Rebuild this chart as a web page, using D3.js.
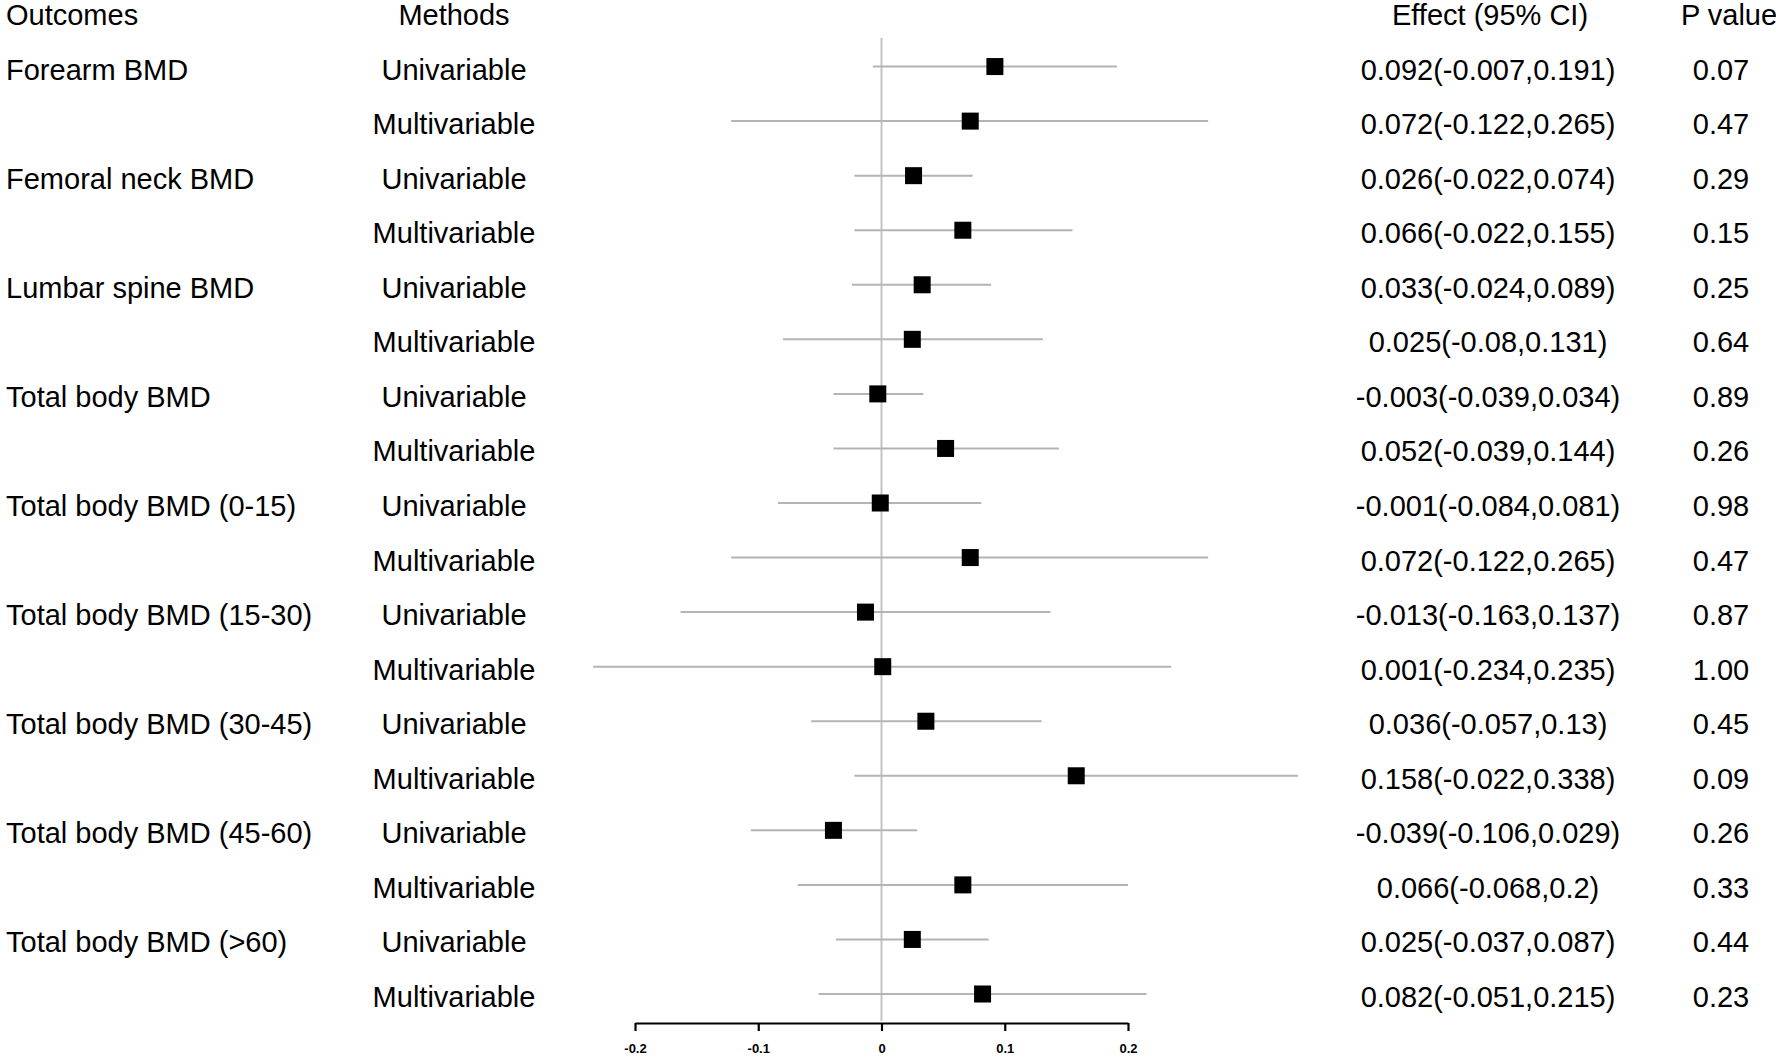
<!DOCTYPE html>
<html>
<head>
<meta charset="utf-8">
<script src="https://cdn.jsdelivr.net/npm/d3@7"></script>
<style>
  body { margin: 0; background: #fff; }
  text { font-family: "Liberation Sans", Arial, sans-serif; fill: #000; }
</style>
</head>
<body>
<div id="viz"></div>
<script>
const outcomes = ["Forearm BMD", "", "Femoral neck BMD", "", "Lumbar spine BMD", "",
                  "Total body BMD", "", "Total body BMD (0-15)", "", "Total body BMD (15-30)", "",
                  "Total body BMD (30-45)", "", "Total body BMD (45-60)", "", "Total body BMD (>60)", ""];
const methods  = ["Univariable", "Multivariable", "Univariable", "Multivariable", "Univariable", "Multivariable",
                  "Univariable", "Multivariable", "Univariable", "Multivariable", "Univariable", "Multivariable",
                  "Univariable", "Multivariable", "Univariable", "Multivariable", "Univariable", "Multivariable"];
const effect   = [0.092, 0.072, 0.026, 0.066, 0.033, 0.025, -0.003, 0.052, -0.001,
                  0.072, -0.013, 0.001, 0.036, 0.158, -0.039, 0.066, 0.025, 0.082];
const lower    = [-0.007, -0.122, -0.022, -0.022, -0.024, -0.08, -0.039, -0.039, -0.084,
                  -0.122, -0.163, -0.234, -0.057, -0.022, -0.106, -0.068, -0.037, -0.051];
const upper    = [0.191, 0.265, 0.074, 0.155, 0.089, 0.131, 0.034, 0.144, 0.081,
                  0.265, 0.137, 0.235, 0.13, 0.338, 0.029, 0.2, 0.087, 0.215];
const pvalues  = ["0.07", "0.47", "0.29", "0.15", "0.25", "0.64", "0.89", "0.26", "0.98",
                  "0.47", "0.87", "1.00", "0.45", "0.09", "0.26", "0.33", "0.44", "0.23"];
const xTicks   = [-0.2, -0.1, 0, 0.1, 0.2];
const xTickLabels = ["-0.2", "-0.1", "0", "0.1", "0.2"];

const width = 1776, height = 1059, fontSize = 29;

const rows = effect.map((d, i) => ({
  outcome: outcomes[i], method: methods[i], est: d, lo: lower[i], hi: upper[i], p: pvalues[i],
  label: d + "(" + lower[i] + "," + upper[i] + ")"
}));

const svg = d3.select("#viz").append("svg")
  .attr("width", width)
  .attr("height", height);

// row 0 is the header line
const y = d3.scalePoint()
  .domain(d3.range(rows.length + 1))
  .range([12, 994]);

const x = d3.scaleLinear()
  .domain([-0.2, 0.2])
  .range([635, 1128]);

const colX = {outcome: 6, method: 454, effect: 1488, p: 1721};
const baseShift = 13;

// headers
const header = svg.append("g").attr("font-size", fontSize);
header.append("text").attr("x", colX.outcome).attr("y", y(0) + baseShift).text("Outcomes");
header.append("text").attr("x", colX.method).attr("y", y(0) + baseShift).attr("text-anchor", "middle").text("Methods");
header.append("text").attr("x", colX.effect + 2).attr("y", y(0) + baseShift).attr("text-anchor", "middle").text("Effect (95% CI)");
header.append("text").attr("x", colX.p + 8).attr("y", y(0) + baseShift).attr("text-anchor", "middle").text("P value");

// zero line
svg.append("line")
  .attr("x1", x(0)).attr("x2", x(0))
  .attr("y1", 38).attr("y2", 1021)
  .style("stroke", "#c4c4c4")
  .style("stroke-width", 2);

const row = svg.append("g").selectAll("g")
  .data(rows)
  .join("g")
  .attr("transform", (d, i) => `translate(0,${y(i + 1)})`);

row.append("line")
  .attr("x1", d => x(d.lo))
  .attr("x2", d => x(d.hi))
  .style("stroke", "#b4b4b4")
  .style("stroke-width", 2);

row.append("rect")
  .attr("x", d => x(d.est) - 8.5)
  .attr("y", -8.5)
  .attr("width", 17)
  .attr("height", 17)
  .style("fill", "#000");

row.append("text")
  .attr("x", colX.outcome).attr("y", baseShift)
  .attr("font-size", fontSize)
  .text(d => d.outcome);

row.append("text")
  .attr("x", colX.method).attr("y", baseShift)
  .attr("font-size", fontSize)
  .attr("text-anchor", "middle")
  .text(d => d.method);

row.append("text")
  .attr("x", colX.effect).attr("y", baseShift)
  .attr("font-size", fontSize)
  .attr("text-anchor", "middle")
  .text(d => d.label);

row.append("text")
  .attr("x", colX.p).attr("y", baseShift)
  .attr("font-size", fontSize)
  .attr("text-anchor", "middle")
  .text(d => d.p);

// x axis
const axis = svg.append("g")
  .attr("transform", "translate(0,1023)")
  .call(d3.axisBottom(x)
    .tickValues(xTicks)
    .tickFormat((d, i) => xTickLabels[i])
    .tickSize(8)
    .tickSizeOuter(0)
    .tickPadding(13));

axis.select(".domain").style("stroke", "#000").style("stroke-width", 2.2);
axis.selectAll(".tick line").style("stroke", "#000").style("stroke-width", 2.2);
axis.selectAll(".tick text")
  .attr("font-size", 13)
  .attr("font-weight", "bold")
  .style("font-family", "'Liberation Sans', Arial, sans-serif");
</script>
</body>
</html>
